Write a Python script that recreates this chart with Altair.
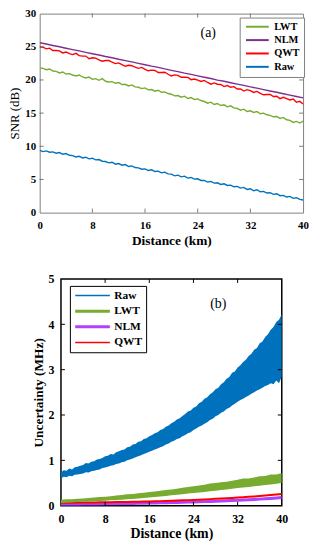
import altair as alt
import pandas as pd

# ---------------- data ----------------
DIST_COARSE = list(range(0, 41))             # 1 km sampling
DIST_FINE = [i * 0.5 for i in range(81)]     # 0.5 km sampling

SNR_NLM = [25.6, 25.42, 25.2, 25.0, 24.78, 24.57, 24.38, 24.15, 23.95, 23.76,
           23.53, 23.35, 23.12, 22.92, 22.72, 22.5, 22.3, 22.08, 21.9, 21.66,
           21.45, 21.26, 21.02, 20.84, 20.62, 20.41, 20.22, 19.98, 19.8, 19.58,
           19.38, 19.18, 18.95, 18.76, 18.55, 18.34, 18.14, 17.92, 17.72, 17.5, 17.3]

SNR_QWT = [24.95, 24.95, 24.69, 24.79, 24.44, 24.43, 24.38, 24.08, 24.22, 23.97,
           23.82, 24.01, 23.66, 23.60, 23.60, 23.20, 23.34, 23.29, 23.04, 22.83,
           22.93, 22.93, 22.67, 22.47, 22.57, 22.31, 22.06, 22.21, 22.15, 21.95,
           21.75, 21.89, 21.59, 21.38, 21.48, 21.43, 21.12, 21.12, 21.17, 20.86,
           20.61, 20.76, 20.70, 20.40, 20.40, 20.39, 20.04, 20.14, 19.98, 19.78,
           19.93, 19.62, 19.37, 19.56, 19.36, 19.31, 19.00, 19.15, 18.90, 18.99,
           18.64, 18.64, 18.33, 18.53, 18.38, 18.12, 18.27, 17.97, 17.76, 17.81,
           17.81, 17.50, 17.55, 17.19, 17.39, 17.19, 16.98, 17.13, 16.63, 16.77, 16.37]

SNR_LWT = [21.8, 21.75, 21.55, 21.65, 21.35, 21.3, 21.05, 21.2, 20.9, 20.95,
           20.75, 20.6, 20.75, 20.45, 20.3, 20.45, 20.1, 20.2, 19.95, 20.2,
           19.8, 19.7, 19.75, 19.5, 19.6, 19.3, 19.35, 19.1, 19.25, 18.95,
           18.9, 18.7, 18.8, 18.5, 18.55, 18.3, 18.45, 18.15, 18.2, 17.95,
           17.85, 17.6, 17.65, 17.4, 17.55, 17.2, 17.35, 17.05, 17.15, 16.9,
           16.75, 16.5, 16.65, 16.3, 16.45, 16.15, 16.25, 15.95, 16.1, 15.8,
           15.7, 15.45, 15.6, 15.25, 15.35, 15.1, 15.25, 14.9, 15.0, 14.75,
           14.65, 14.45, 14.5, 14.2, 14.35, 14.0, 13.9, 13.6, 13.75, 13.5, 13.8]

SNR_RAW = [9.4, 9.2, 9.3, 9.1, 9.15, 8.95, 9.05, 8.8, 8.9, 8.65,
           8.6, 8.4, 8.5, 8.25, 8.35, 8.1, 8.2, 7.95, 8.0, 7.75,
           7.7, 7.5, 7.6, 7.3, 7.4, 7.15, 7.25, 6.95, 7.05, 6.8,
           6.75, 6.55, 6.6, 6.35, 6.45, 6.2, 6.25, 6.0, 6.1, 5.85,
           5.8, 5.55, 5.65, 5.4, 5.5, 5.2, 5.3, 5.05, 5.1, 4.85,
           4.85, 4.6, 4.7, 4.45, 4.5, 4.25, 4.35, 4.1, 4.15, 3.9,
           3.95, 3.7, 3.8, 3.5, 3.6, 3.3, 3.45, 3.15, 3.2, 2.95,
           3.0, 2.75, 2.85, 2.55, 2.6, 2.35, 2.45, 2.15, 2.25, 2.0, 1.9]

UNC_RAW_LO = [0.60, 0.64, 0.63, 0.66, 0.65, 0.68, 0.69, 0.70, 0.71, 0.74,
              0.73, 0.76, 0.77, 0.79, 0.80, 0.83, 0.84, 0.86, 0.88, 0.89,
              0.92, 0.93, 0.96, 0.97, 1.00, 1.02, 1.04, 1.07, 1.09, 1.11,
              1.14, 1.16, 1.19, 1.21, 1.24, 1.26, 1.29, 1.31, 1.35, 1.37,
              1.41, 1.43, 1.47, 1.49, 1.53, 1.56, 1.60, 1.62, 1.67, 1.70,
              1.74, 1.77, 1.81, 1.84, 1.89, 1.92, 1.97, 2.00, 2.05, 2.08,
              2.13, 2.16, 2.21, 2.25, 2.29, 2.33, 2.36, 2.40, 2.43, 2.47,
              2.50, 2.54, 2.57, 2.60, 2.64, 2.66, 2.70, 2.68, 2.76, 2.70, 2.85]

UNC_RAW_HI = [0.74, 0.78, 0.77, 0.82, 0.80, 0.85, 0.86, 0.88, 0.90, 0.94,
              0.93, 0.97, 0.98, 1.02, 1.03, 1.05, 1.09, 1.10, 1.14, 1.13,
              1.18, 1.20, 1.23, 1.24, 1.29, 1.30, 1.35, 1.36, 1.41, 1.42,
              1.47, 1.49, 1.53, 1.56, 1.60, 1.62, 1.67, 1.69, 1.74, 1.77,
              1.82, 1.85, 1.90, 1.93, 1.98, 2.02, 2.08, 2.10, 2.16, 2.19,
              2.26, 2.29, 2.36, 2.39, 2.46, 2.50, 2.57, 2.60, 2.68, 2.72,
              2.80, 2.84, 2.93, 2.96, 3.05, 3.10, 3.17, 3.22, 3.30, 3.35,
              3.44, 3.48, 3.58, 3.62, 3.72, 3.78, 3.88, 3.94, 4.05, 4.10, 4.22]

UNC_LWT_LO = [0.06, 0.065, 0.07, 0.08, 0.085, 0.09, 0.10, 0.105, 0.11, 0.12,
              0.125, 0.13, 0.14, 0.15, 0.16, 0.17, 0.18, 0.19, 0.205, 0.215,
              0.23, 0.24, 0.255, 0.27, 0.28, 0.29, 0.305, 0.32, 0.33, 0.345,
              0.36, 0.375, 0.39, 0.40, 0.415, 0.43, 0.44, 0.455, 0.47, 0.485, 0.50]

UNC_LWT_HI = [0.13, 0.14, 0.145, 0.155, 0.16, 0.17, 0.18, 0.19, 0.20, 0.21,
              0.225, 0.235, 0.25, 0.26, 0.275, 0.285, 0.30, 0.315, 0.33, 0.345,
              0.36, 0.375, 0.395, 0.41, 0.43, 0.445, 0.46, 0.49, 0.50, 0.515,
              0.53, 0.55, 0.57, 0.60, 0.60, 0.62, 0.65, 0.655, 0.69, 0.69, 0.72]

UNC_NLM = [0.030, 0.031, 0.032, 0.034, 0.035, 0.036, 0.038, 0.039, 0.041, 0.043,
           0.045, 0.047, 0.049, 0.051, 0.054, 0.056, 0.059, 0.061, 0.064, 0.067,
           0.070, 0.073, 0.076, 0.079, 0.083, 0.086, 0.090, 0.094, 0.098, 0.102,
           0.107, 0.113, 0.119, 0.125, 0.131, 0.138, 0.145, 0.152, 0.160, 0.169, 0.180]

UNC_QWT = [0.065, 0.066, 0.067, 0.068, 0.070, 0.071, 0.072, 0.074, 0.076, 0.078,
           0.080, 0.082, 0.084, 0.087, 0.089, 0.092, 0.095, 0.098, 0.101, 0.105,
           0.110, 0.114, 0.118, 0.123, 0.128, 0.133, 0.139, 0.145, 0.151, 0.158,
           0.165, 0.172, 0.180, 0.188, 0.196, 0.205, 0.214, 0.224, 0.235, 0.247, 0.260]

X_TICKS = [0, 8, 16, 24, 32, 40]
SNR_TICKS = [0, 5, 10, 15, 20, 25, 30]
UNC_TICKS = [0, 1, 2, 3, 4, 5]

SERIES_A = ["LWT", "NLM", "QWT", "Raw"]
COLORS_A = ["#77AC30", "#7E2F8E", "#FF0000", "#0072BD"]
SERIES_B = ["Raw", "LWT", "NLM", "QWT"]
COLORS_B = ["#0072BD", "#77AC30", "#B041FF", "#FF0000"]

ANNOT_A = {"x": 25.6, "y": 27.0, "text": "(a)"}
ANNOT_B = {"x": 28.5, "y": 4.44, "text": "(b)"}

FONT = "Liberation Serif"
W1, H1 = 266, 201
W2, H2 = 223, 229
LINE_SYMBOL = "M-1,0H7"   # legend line sample, drawn to the right of its anchor

# ---------------- shared scales / axes ----------------
sx_a = alt.Scale(domain=[0, 40], nice=False)
sy_a = alt.Scale(domain=[0, 30], nice=False)
ax_xa = alt.Axis(values=X_TICKS, title="Distance (km)", labelFontSize=11,
                 labelFontWeight="bold", labelPadding=7, titleFontSize=13.5,
                 titlePadding=3, labelFlush=False, labelOverlap=False)
ax_ya = alt.Axis(values=SNR_TICKS, title="SNR (dB)", labelFontSize=11,
                 labelFontWeight="bold", labelPadding=4, titleFontSize=13,
                 titleFontWeight="normal", titlePadding=3, labelOverlap=False)

sx_b = alt.Scale(domain=[0, 40], nice=False)
sy_b = alt.Scale(domain=[0, 5], nice=False)
ax_xb = alt.Axis(values=X_TICKS, title="Distance (km)", labelFontSize=12,
                 labelFontWeight="bold", labelPadding=8, titleFontSize=14,
                 titlePadding=2, labelFlush=False, labelOverlap=False)
ax_yb = alt.Axis(values=UNC_TICKS, title="Uncertainty (MHz)", labelFontSize=12,
                 labelFontWeight="bold", labelPadding=7, titleFontSize=13.5,
                 titlePadding=3, labelOverlap=False)

# ---------------- panel (a) ----------------
rows = []
for name, xs, ys in [("Raw", DIST_FINE, SNR_RAW), ("LWT", DIST_FINE, SNR_LWT),
                     ("QWT", DIST_FINE, SNR_QWT), ("NLM", DIST_COARSE, SNR_NLM)]:
    for xv, yv in zip(xs, ys):
        rows.append({"series": name, "d": xv, "v": yv})
df_a = pd.DataFrame(rows)

lines_a = alt.Chart(df_a).mark_line(strokeWidth=1.4, clip=True).encode(
    x=alt.X("d:Q", scale=sx_a, axis=ax_xa),
    y=alt.Y("v:Q", scale=sy_a, axis=ax_ya),
    color=alt.Color("series:N",
                    scale=alt.Scale(domain=SERIES_A, range=COLORS_A),
                    legend=alt.Legend(orient="none", legendX=202, legendY=4,
                                      title=None, symbolType=LINE_SYMBOL,
                                      symbolSize=33, symbolStrokeWidth=2,
                                      labelFont=FONT, labelFontWeight="bold",
                                      labelFontSize=10.5, labelOffset=20.3,
                                      rowPadding=2.5, padding=4,
                                      strokeColor="#7f7f7f", fillColor="white")),
)

xt_a = pd.DataFrame({"d": X_TICKS[1:-1]})
yt_a = pd.DataFrame({"v": SNR_TICKS[1:-1]})
tick_col_a = "#5a5a5a"
ticks_a = [
    alt.Chart(xt_a).mark_rule(color=tick_col_a, strokeWidth=0.8).encode(
        x=alt.X("d:Q", scale=sx_a, axis=ax_xa),
        y=alt.value(H1), y2=alt.value(H1 - 4)),
    alt.Chart(xt_a).mark_rule(color=tick_col_a, strokeWidth=0.8).encode(
        x=alt.X("d:Q", scale=sx_a, axis=ax_xa), y=alt.value(0), y2=alt.value(4)),
    alt.Chart(yt_a).mark_rule(color=tick_col_a, strokeWidth=0.8).encode(
        y=alt.Y("v:Q", scale=sy_a, axis=ax_ya),
        x=alt.value(0), x2=alt.value(4)),
    alt.Chart(yt_a).mark_rule(color=tick_col_a, strokeWidth=0.8).encode(
        y=alt.Y("v:Q", scale=sy_a, axis=ax_ya), x=alt.value(W1), x2=alt.value(W1 - 4)),
]

text_a = alt.Chart(pd.DataFrame([{"d": ANNOT_A["x"], "v": ANNOT_A["y"],
                                  "text": ANNOT_A["text"]}])).mark_text(
    font=FONT, fontSize=14, color="black").encode(
    x=alt.X("d:Q", scale=sx_a, axis=ax_xa),
    y=alt.Y("v:Q", scale=sy_a, axis=ax_ya), text="text:N")

panel_a = alt.layer(lines_a, *ticks_a, text_a).properties(
    width=W1, height=H1,
    view=alt.ViewBackground(stroke="#7f7f7f", strokeWidth=1))

# ---------------- panel (b) ----------------
band_rows = []
for xv, lo, hi in zip(DIST_FINE, UNC_RAW_LO, UNC_RAW_HI):
    band_rows.append({"s2": "Raw", "d": xv, "v": lo, "hi": hi})
for xv, lo, hi in zip(DIST_COARSE, UNC_LWT_LO, UNC_LWT_HI):
    band_rows.append({"s2": "LWT", "d": xv, "v": lo, "hi": hi})
df_band = pd.DataFrame(band_rows)

line_rows = []
for name, ys in [("NLM", UNC_NLM), ("QWT", UNC_QWT)]:
    for xv, yv in zip(DIST_COARSE, ys):
        line_rows.append({"s2": name, "d": xv, "v": yv})
df_lines_b = pd.DataFrame(line_rows)

color_b_scale = alt.Scale(domain=SERIES_B, range=COLORS_B)

lines_b = alt.Chart(df_lines_b).mark_line(clip=True).encode(
    x=alt.X("d:Q", scale=sx_b, axis=ax_xb),
    y=alt.Y("v:Q", scale=sy_b, axis=ax_yb),
    color=alt.Color("s2:N", scale=color_b_scale,
                    legend=alt.Legend(orient="none", legendX=9, legendY=7,
                                      title=None, symbolType=LINE_SYMBOL,
                                      symbolSize=76.6,
                                      symbolStrokeWidth=alt.ExprRef(
                                          "datum.value === 'LWT' || datum.value === 'NLM' ? 3 : 1.5"),
                                      labelFont=FONT, labelFontWeight="bold",
                                      labelFontSize=11.5, labelOffset=29.3,
                                      rowPadding=2.8, padding=4,
                                      strokeColor="black", fillColor="white")),
    strokeWidth=alt.StrokeWidth("s2:N",
                                scale=alt.Scale(domain=["NLM", "QWT"], range=[3, 2]),
                                legend=None),
)

bands_b = alt.Chart(df_band).mark_area(opacity=1, clip=True).encode(
    x=alt.X("d:Q", scale=sx_b, axis=ax_xb),
    y=alt.Y("v:Q", scale=sy_b, axis=ax_yb),
    y2="hi:Q",
    color=alt.Color("s2:N", scale=color_b_scale, legend=None),
)

xt_b = pd.DataFrame({"d": X_TICKS[1:-1]})
yt_b = pd.DataFrame({"v": UNC_TICKS[1:-1]})
ticks_b = [
    alt.Chart(xt_b).mark_rule(color="black", strokeWidth=1).encode(
        x=alt.X("d:Q", scale=sx_b, axis=ax_xb), y=alt.value(H2), y2=alt.value(H2 - 4)),
    alt.Chart(xt_b).mark_rule(color="black", strokeWidth=1).encode(
        x=alt.X("d:Q", scale=sx_b, axis=ax_xb), y=alt.value(0), y2=alt.value(4)),
    alt.Chart(yt_b).mark_rule(color="black", strokeWidth=1).encode(
        y=alt.Y("v:Q", scale=sy_b, axis=ax_yb), x=alt.value(0), x2=alt.value(4)),
    alt.Chart(yt_b).mark_rule(color="black", strokeWidth=1).encode(
        y=alt.Y("v:Q", scale=sy_b, axis=ax_yb), x=alt.value(W2), x2=alt.value(W2 - 4)),
]

text_b = alt.Chart(pd.DataFrame([{"d": ANNOT_B["x"], "v": ANNOT_B["y"],
                                  "text": ANNOT_B["text"]}])).mark_text(
    font=FONT, fontSize=14, color="black").encode(
    x=alt.X("d:Q", scale=sx_b, axis=ax_xb),
    y=alt.Y("v:Q", scale=sy_b, axis=ax_yb), text="text:N")

panel_b = alt.layer(lines_b, bands_b, *ticks_b, text_b).properties(
    width=W2, height=H2,
    view=alt.ViewBackground(stroke="black", strokeWidth=1.5))

chart = alt.vconcat(panel_a, panel_b, spacing=67, center=True, bounds="flush").resolve_scale(
    color="independent", strokeWidth="independent").resolve_legend(
    color="independent").properties(
    padding={"left": 0, "top": -4, "right": 0, "bottom": 0}
).configure_axis(
    labelFont=FONT, titleFont=FONT, labelFontWeight="bold", titleFontWeight="bold",
    labelColor="black", titleColor="black", ticks=False, domain=False, grid=False,
).configure_view(stroke="black")

chart.save("out.html", embed_options={"renderer": "svg", "actions": False})
